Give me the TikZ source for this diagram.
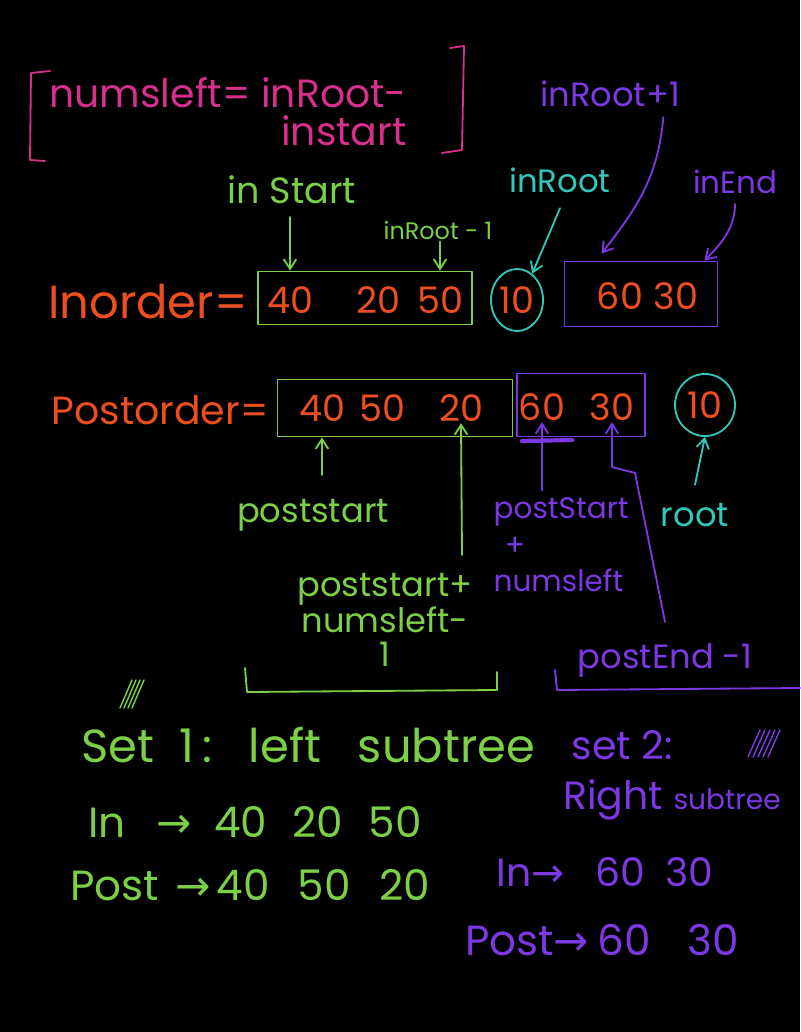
\documentclass[tikz,border=0pt]{standalone}
\usepackage{fontspec}
\setmainfont{Poppins}
\newfontfamily\arrowfont{DejaVu Sans}
\usetikzlibrary{positioning,shapes.geometric,arrows.meta}

\definecolor{pinkink}{RGB}{214,48,140}
\definecolor{greenink}{RGB}{124,208,72}
\definecolor{orangeink}{RGB}{236,78,32}
\definecolor{tealink}{RGB}{48,200,186}
\definecolor{purpleink}{RGB}{124,56,226}

\newcommand{\rowarrow}{{\arrowfont →}}
\newcommand{\fs}[1]{\fontsize{#1}{#1}\selectfont}
\newcommand{\gap}[1]{\hspace{#1pt}}

\begin{document}
\begin{tikzpicture}[x=0.025cm, y=-0.025cm, >={Straight Barb[length=7pt,width=9pt]},
  every node/.style={align=center, inner sep=1pt},
  ink/.style={line width=1.3pt, line cap=round, line join=round},
  pinktext/.style={text=pinkink, font=\fs{28}},
  greentext/.style={text=greenink, font=\fs{26}},
  orangetext/.style={text=orangeink, font=\fs{30}},
  tealtext/.style={text=tealink, font=\fs{24}},
  purpletext/.style={text=purpleink, font=\fs{24}},
  numtext/.style={text=orangeink, font=\fs{26}},
  greenbox/.style={ink, draw=greenink, rectangle},
  purplebox/.style={ink, draw=purpleink, rectangle},
  tealring/.style={ink, draw=tealink, ellipse, inner sep=0pt},
  garrow/.style={ink, draw=greenink, ->},
  parrow/.style={ink, draw=purpleink, ->},
  tarrow/.style={ink, draw=tealink, ->}]

\fill[black] (0,0) rectangle (800,1032);

% Formula in brackets
\node[pinktext, align=right, font=\fontsize{28}{27}\selectfont] (numsleft) at (228,112) {numsleft= inRoot-\\instart};
\draw[ink, pinkink] (50,71) -- (31,73) -- (30,160) -- (45,161);
\draw[ink, pinkink] (450,48) -- (464,46) -- (462,150) -- (442,153);

% Inorder row
\node[orangetext, font=\fs{33}] (inlabel) at (148,302) {Inorder=};
\node[greenbox, minimum width=5.35cm, minimum height=1.325cm] (leftin) at (365,298) {};
\node[numtext] (i40) at (290,300) {40};
\node[numtext] (i20) at (378,300) {20};
\node[numtext] (i50) at (440,300) {50};
\node[numtext, tealring, minimum width=1.3cm, minimum height=1.55cm] (i10) at (517,300) {10};
\node[purplebox, minimum width=3.825cm, minimum height=1.625cm] (rightin) at (641,294) {};
\node[numtext] (i60) at (620,296) {60};
\node[numtext] (i30) at (676,296) {30};

% Labels above the inorder row
\node[greentext] (instartlbl) at (292,190) {in Start};
\node[greentext, font=\fs{17}] (inrootm1) at (438,231) {inRoot - 1};
\node[tealtext, font=\fs{23}] (inrootlbl) at (560,180) {inRoot};
\node[purpletext] (inrootp1) at (610,94) {inRoot+1};
\node[purpletext, font=\fs{22}] (inendlbl) at (735,182) {inEnd};

\draw[garrow] ([yshift=-8pt]instartlbl.south -| i40) -- (i40 |- leftin.north);
\draw[garrow] (inrootm1.south -| i50) -- (i50 |- leftin.north);
\draw[tarrow] ([yshift=-10pt]inrootlbl.south) -- (i10.60);
\draw[parrow] ([xshift=-13pt, yshift=-6pt]inrootp1.south east) .. controls +(-5,60) and +(35,-45) .. ([xshift=27pt, yshift=5pt]rightin.north west);
\draw[parrow] ([yshift=-6pt]inendlbl.south) .. controls +(0,25) and +(15,-15) .. ([xshift=-10pt]rightin.north east);

% Postorder row
\node[orangetext, font=\fs{28}] (postlabel) at (160,410) {Postorder=};
\node[greenbox, minimum width=5.875cm, minimum height=1.425cm] (leftpost) at (395,408) {};
\node[numtext] (p40) at (322,408) {40};
\node[numtext] (p50) at (382,408) {50};
\node[numtext] (p20) at (461,408) {20};
\node[purplebox, minimum width=3.2cm, minimum height=1.575cm] (rightpost) at (581,405) {};
\node[numtext] (p60) at (542,407) {60};
\node[numtext] (p30) at (612,407) {30};
\node[numtext, tealring, minimum width=1.5cm, minimum height=1.55cm] (p10) at (705,405) {10};
\draw[ink, purpleink, line width=3pt] (522,441) -- (572,440);

% Labels below the postorder row
\node[greentext, font=\fs{24}] (poststartlbl) at (313,515) {poststart};
\node[greentext, font=\fs{24}] (pslastlbl) at (385,620) {poststart+\\numsleft-\\1};
\node[purpletext, font=\fontsize{21}{26}\selectfont, align=left, anchor=north west] (psright) at (492,496) {postStart\\\gap{8}+\\numsleft};
\node[tealtext] (rootlbl) at (695,515) {root};
\node[purpletext] (postendlbl) at (665,660) {postEnd -1};
\coordinate (lastfoot) at (462,555);

\draw[garrow] ([yshift=16pt]poststartlbl.north -| p40) -- (p40 |- leftpost.south);
\draw[garrow] (lastfoot) -- (p20.south);
\draw[parrow] ([yshift=4pt]psright.north -| p60) -- (p60.south);
\draw[tarrow] ([yshift=12pt]rootlbl.north) -- (p10.south);
\draw[parrow] ([yshift=14pt]postendlbl.north) -- (635,473) -- (612,467) -- (p30.south);

% Brackets and scribbles
\draw[ink, greenink] (245,668) -- (247,692) -- (497,690) -- (497,672);
\draw[ink, purpleink] (555,670) -- (557,690) -- (800,688);
\foreach \dx in {0,4,8,12}
  \draw[ink, greenink, line width=1pt] (120+\dx,708) -- (132+\dx,680);
\foreach \dx in {0,5,10,15,20}
  \draw[ink, purpleink, line width=1pt] (748+\dx,757) -- (760+\dx,730);

% Two subtrees
\node[greentext, font=\fs{33}] (setone) at (308,745) {Set\gap{18}1\gap{6}:\gap{26}left\gap{26}subtree};
\node[purpletext, font=\fs{28}] (settwo) at (622,745) {set 2:};
\node[purpletext, font=\fs{28}] (rightsub) at (672,800) {Right {\fs{20}subtree}};
\node[greentext, font=\fs{30}] (leftinrow) at (255,822) {In\gap{22}\rowarrow\gap{16}40\gap{18}20\gap{18}50};
\node[greentext, font=\fs{30}] (leftpostrow) at (250,885) {Post\gap{12}\rowarrow\gap{4}40\gap{20}50\gap{20}20};
\node[purpletext, font=\fs{28}] (rightinrow) at (605,872) {In\rowarrow\gap{22}60\gap{14}30};
\node[purpletext, font=\fs{30}] (rightpostrow) at (602,940) {Post\rowarrow\gap{6}60\gap{26}30};

\end{tikzpicture}
\end{document}
